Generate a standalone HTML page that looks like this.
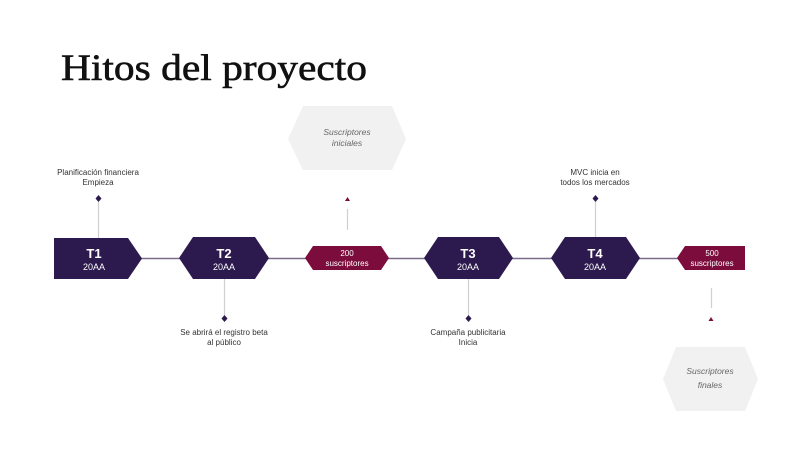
<!DOCTYPE html>
<html><head><meta charset="utf-8"><style>
html,body{margin:0;padding:0;background:#fff;}
svg{display:block;}
text{font-family:"Liberation Sans",sans-serif;}
</style></head><body>
<svg width="796" height="450" viewBox="0 0 796 450" xmlns="http://www.w3.org/2000/svg">
<rect width="796" height="450" fill="#fff"/>
<text x="61" y="80" style="font-family:'Liberation Serif',serif" font-size="37" fill="#111" stroke="#111" stroke-width="0.6" textLength="306" lengthAdjust="spacingAndGlyphs">Hitos del proyecto</text>

<polygon points="303,106 392,106 406,139 392,170 303,170 288,139" fill="#f1f1f1"/>
<text x="347" y="135" font-size="8.5" font-style="italic" fill="#666" text-anchor="middle">Suscriptores</text>
<text x="347" y="146" font-size="8.5" font-style="italic" fill="#666" text-anchor="middle">iniciales</text>
<polygon points="676,347 745,347 758,379 745,411 676,411 663,379" fill="#f1f1f1"/>
<text x="710" y="374" font-size="8.5" font-style="italic" fill="#666" text-anchor="middle">Suscriptores</text>
<text x="710" y="388" font-size="8.5" font-style="italic" fill="#666" text-anchor="middle">finales</text>

<line x1="140" y1="258.5" x2="680" y2="258.5" stroke="#7a6a8c" stroke-width="1.5"/>

<g stroke="#d0d0d0" stroke-width="1.2">
<line x1="98.5" y1="202" x2="98.5" y2="238"/>
<line x1="224.5" y1="279" x2="224.5" y2="315"/>
<line x1="347.5" y1="209" x2="347.5" y2="230"/>
<line x1="468.5" y1="279" x2="468.5" y2="315"/>
<line x1="595.5" y1="202" x2="595.5" y2="237"/>
<line x1="711.5" y1="288" x2="711.5" y2="308"/>
</g>
<g fill="#2c1a4e">
<polygon points="98.5,195 101.5,198.5 98.5,202 95.5,198.5"/>
<polygon points="224.5,315 227.5,318.5 224.5,322 221.5,318.5"/>
<polygon points="468.5,315 471.5,318.5 468.5,322 465.5,318.5"/>
<polygon points="595.5,195 598.5,198.5 595.5,202 592.5,198.5"/>
</g>
<g fill="#7b0c3c">
<polygon points="347.5,197 350,201 345,201"/>
<polygon points="711,317 713.5,321 708.5,321"/>
</g>

<g fill="#2c1a4e">
<polygon points="54,238 128,238 142,258.5 128,279 54,279"/>
<polygon points="193,237 255,237 269,258 255,279 193,279 179,258"/>
<polygon points="438,237 499,237 513,258 499,279 438,279 424,258"/>
<polygon points="565,237 626,237 640,258 626,279 565,279 551,258"/>
</g>
<g fill="#7b0c3c">
<polygon points="313,246 381,246 389,258 381,270 313,270 305,258"/>
<polygon points="685,246 745,246 745,270 685,270 677,258"/>
</g>

<g fill="#fff" text-anchor="middle">
<text x="94" y="258" font-size="13" font-weight="bold">T1</text>
<text x="94" y="270" font-size="9">20AA</text>
<text x="224" y="258" font-size="13" font-weight="bold">T2</text>
<text x="224" y="270" font-size="9">20AA</text>
<text x="468" y="258" font-size="13" font-weight="bold">T3</text>
<text x="468" y="270" font-size="9">20AA</text>
<text x="595" y="258" font-size="13" font-weight="bold">T4</text>
<text x="595" y="270" font-size="9">20AA</text>
<text x="347" y="256" font-size="8">200</text>
<text x="347" y="266" font-size="8">suscriptores</text>
<text x="712" y="256" font-size="8">500</text>
<text x="712" y="266" font-size="8">suscriptores</text>
</g>

<g fill="#333" text-anchor="middle" font-size="8">
<text x="98" y="175">Planificación financiera</text>
<text x="98" y="185">Empieza</text>
<text x="224" y="335">Se abrirá el registro beta</text>
<text x="224" y="345">al público</text>
<text x="468" y="335">Campaña publicitaria</text>
<text x="468" y="345">Inicia</text>
<text x="595" y="175">MVC inicia en</text>
<text x="595" y="185">todos los mercados</text>
</g>
</svg>
</body></html>
